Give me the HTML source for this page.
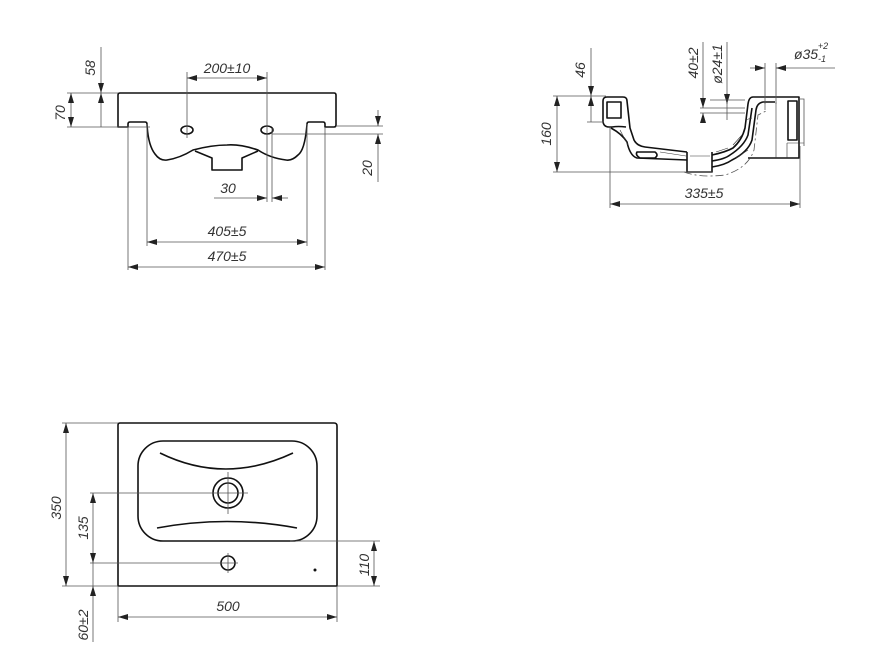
<!DOCTYPE html>
<html><head><meta charset="utf-8"><style>
html,body{margin:0;padding:0;background:#fff;}
svg{display:block}
text{font-family:"Liberation Sans",sans-serif;font-style:italic;font-size:14px;fill:#333;text-anchor:middle}
.d{stroke:#555;stroke-width:0.8;fill:none}
.o{stroke:#111;stroke-width:1.6;fill:none;stroke-linejoin:round}
.h{stroke:#333;stroke-width:0.6;fill:none}
</style></head><body>
<svg width="869" height="662" viewBox="0 0 869 662">
<defs>
<marker id="a" viewBox="0 0 10 6" refX="10" refY="3" markerWidth="10" markerHeight="6" orient="auto-start-reverse" markerUnits="userSpaceOnUse"><path d="M0,0 L10,3 L0,6 Z" fill="#222"/></marker>
</defs>

<!-- FRONT VIEW -->
<path class="o" d="M118,127 L118,95 Q118,93 120,93 L334,93 Q336,93 336,95 L336,125 Q336,127 334,127 L325,127 L325,124 Q325,122 323,122 L309,122 Q307,122 307,124 Q305,150 298,155 Q292,161 286,160 Q270,158 258,150 Q240,144 227,145 Q212,145 193,150 Q180,158 167,160 Q160,161 155,154 Q148,145 147,124 Q147,122 145,122 L130,122 Q128,122 128,124 L128,127 Z"/>
<path class="o" d="M195,151 L212,158 L212,170 L242,170 L242,158 L258,151"/>
<ellipse class="o" cx="187" cy="130" rx="6" ry="4"/>
<ellipse class="o" cx="267" cy="130" rx="6" ry="4"/>
<line class="d" x1="187" y1="72" x2="187" y2="138"/>
<line class="d" x1="267" y1="72" x2="267" y2="202"/>
<line class="d" x1="272" y1="128" x2="272" y2="202"/>
<line class="d" x1="187" y1="78" x2="267" y2="78" marker-start="url(#a)" marker-end="url(#a)"/>
<text x="227" y="73">200±10</text>
<line class="d" x1="101" y1="47" x2="101" y2="93" marker-end="url(#a)"/>
<line class="d" x1="101" y1="93" x2="101" y2="127" marker-start="url(#a)"/>
<text transform="translate(95,68) rotate(-90)">58</text>
<line class="d" x1="67" y1="93" x2="118" y2="93"/>
<line class="d" x1="67" y1="127" x2="150" y2="127"/>
<line class="d" x1="71" y1="93" x2="71" y2="127" marker-start="url(#a)" marker-end="url(#a)"/>
<text transform="translate(65,113) rotate(-90)">70</text>
<line class="d" x1="336" y1="126" x2="383" y2="126"/>
<line class="d" x1="272" y1="134" x2="383" y2="134"/>
<line class="d" x1="378" y1="110" x2="378" y2="126" marker-end="url(#a)"/>
<line class="d" x1="378" y1="134" x2="378" y2="182" marker-start="url(#a)"/>
<text transform="translate(372,168) rotate(-90)">20</text>
<line class="d" x1="214" y1="198" x2="267" y2="198" marker-end="url(#a)"/>
<line class="d" x1="272" y1="198" x2="288" y2="198" marker-start="url(#a)"/>
<text x="228" y="193">30</text>
<line class="d" x1="147" y1="124" x2="147" y2="246"/>
<line class="d" x1="307" y1="124" x2="307" y2="246"/>
<line class="d" x1="128" y1="127" x2="128" y2="270"/>
<line class="d" x1="325" y1="127" x2="325" y2="270"/>
<line class="d" x1="147" y1="242" x2="307" y2="242" marker-start="url(#a)" marker-end="url(#a)"/>
<text x="227" y="236">405±5</text>
<line class="d" x1="128" y1="267" x2="325" y2="267" marker-start="url(#a)" marker-end="url(#a)"/>
<text x="227" y="261">470±5</text>

<!-- SIDE VIEW -->
<!-- left rim + basin floor -->
<path class="o" d="M607,97 L623,97 Q627,97 627,101 L630,128 L634,140 Q637,146 645,147 L687,152"/>
<path class="o" d="M607,97 Q603,97 603,101 L603,122 Q604,127 609,127 L612,127 Q618,126 626,127"/>
<path class="o" d="M607,102 L621,102 L621,118 L607,118 Z"/>
<path class="o" d="M611,128 Q622,134 627,142 Q630,156 637,158 L687,160"/>
<path class="o" d="M637,152 L655,152 Q659,155 655,158 L640,158 Q635,155 637,152 Z"/>
<line class="h" x1="660" y1="152" x2="686" y2="156"/>
<line class="h" x1="620" y1="130" x2="628" y2="145"/>
<!-- drain -->
<path class="o" d="M687,152 L687,172 L712,172 L712,152"/>
<line class="h" x1="690" y1="156" x2="710" y2="156"/>
<!-- right wall -->
<path class="o" d="M712,155 Q726,152 733,148 Q742,140 745,128 L748,104 Q749,97 753,97 L799,97 L799,158 L748,158"/>
<path class="o" d="M712,167 Q725,165 732,160 Q748,152 752,140 L756,110 Q757,103 763,102 L775,102"/>
<path class="o" d="M712,161 Q725,159 730,155 Q744,146 748,135 L752,108"/>
<path class="o" d="M788,101 L797,101 L797,140 L788,140 Z"/>
<path class="h" d="M787,143 L787,158 M787,143 L804,143 M776,102 L776,158 M765,102 L765,110"/>
<path class="h" d="M716,152 L728,148 M733,145 L742,135 M745,120 L752,118 M736,158 L748,150"/>
<path class="d" stroke-dasharray="8 3 2 3" d="M684,172 Q700,178 725,175 Q748,168 754,150 L758,115 L768,110"/>
<path class="d" d="M799,99 L804,99 L804,146"/>
<!-- dims side -->
<line class="d" x1="553" y1="96" x2="606" y2="96"/>
<line class="d" x1="553" y1="172" x2="712" y2="172"/>
<line class="d" x1="557" y1="96" x2="557" y2="172" marker-start="url(#a)" marker-end="url(#a)"/>
<text transform="translate(551,134) rotate(-90)">160</text>
<line class="d" x1="587" y1="122" x2="604" y2="122"/>
<line class="d" x1="591" y1="48" x2="591" y2="96" marker-end="url(#a)"/>
<line class="d" x1="591" y1="96" x2="591" y2="122" marker-start="url(#a)"/>
<text transform="translate(585,70) rotate(-90)">46</text>
<line class="d" x1="700" y1="108" x2="745" y2="108"/>
<line class="d" x1="700" y1="113" x2="745" y2="113"/>
<line class="d" x1="703" y1="42" x2="703" y2="108" marker-end="url(#a)"/>
<line class="d" x1="703" y1="113" x2="703" y2="120" marker-start="url(#a)"/>
<text transform="translate(698,63) rotate(-90)">40±2</text>
<line class="d" x1="727" y1="42" x2="727" y2="120"/>
<line class="d" x1="727" y1="93" x2="727" y2="104" marker-end="url(#a)"/>
<text transform="translate(722,64) rotate(-90)">ø24±1</text>
<line class="d" x1="710" y1="100" x2="745" y2="100"/>
<line class="d" x1="765" y1="63" x2="765" y2="104"/>
<line class="d" x1="776" y1="63" x2="776" y2="104"/>
<line class="d" x1="750" y1="68" x2="765" y2="68" marker-end="url(#a)"/>
<line class="d" x1="776" y1="68" x2="835" y2="68" marker-start="url(#a)"/>
<text x="806" y="59">ø35</text>
<text x="823" y="49" style="font-size:9px">+2</text>
<text x="822" y="62" style="font-size:9px">-1</text>
<line class="d" x1="610" y1="128" x2="610" y2="208"/>
<line class="d" x1="800" y1="146" x2="800" y2="208"/>
<line class="d" x1="610" y1="204" x2="800" y2="204" marker-start="url(#a)" marker-end="url(#a)"/>
<text x="704" y="198">335±5</text>

<!-- TOP VIEW -->
<path class="o" d="M118,586 L118,425 Q118,423 120,423 L334,423 Q337,423 337,426 L337,586 Z"/>
<rect class="o" x="138" y="441" width="179" height="100" rx="25"/>
<path class="o" d="M160,453 Q225,485 293,453"/>
<path class="o" d="M157,528 Q227,515 297,528"/>
<circle class="o" cx="228" cy="493" r="15"/>
<circle class="o" cx="228" cy="493" r="10"/>
<circle class="o" cx="228" cy="563" r="7"/>
<circle cx="315" cy="570" r="1.5" fill="#111"/>
<line class="d" x1="228" y1="472" x2="228" y2="514"/>
<line class="d" x1="228" y1="553" x2="228" y2="573"/>
<line class="d" x1="90" y1="493" x2="248" y2="493"/>
<line class="d" x1="90" y1="563" x2="238" y2="563"/>
<line class="d" x1="62" y1="423" x2="118" y2="423"/>
<line class="d" x1="62" y1="586" x2="118" y2="586"/>
<line class="d" x1="66" y1="423" x2="66" y2="586" marker-start="url(#a)" marker-end="url(#a)"/>
<text transform="translate(61,508) rotate(-90)">350</text>
<line class="d" x1="93" y1="493" x2="93" y2="563" marker-start="url(#a)" marker-end="url(#a)"/>
<text transform="translate(88,528) rotate(-90)">135</text>
<line class="d" x1="93" y1="586" x2="93" y2="642" marker-start="url(#a)"/>
<line class="d" x1="93" y1="563" x2="93" y2="586"/>
<text transform="translate(88,625) rotate(-90)">60±2</text>
<line class="d" x1="290" y1="541" x2="380" y2="541"/>
<line class="d" x1="337" y1="586" x2="380" y2="586"/>
<line class="d" x1="374" y1="541" x2="374" y2="586" marker-start="url(#a)" marker-end="url(#a)"/>
<text transform="translate(369,565) rotate(-90)">110</text>
<line class="d" x1="118" y1="586" x2="118" y2="622"/>
<line class="d" x1="337" y1="586" x2="337" y2="622"/>
<line class="d" x1="118" y1="617" x2="337" y2="617" marker-start="url(#a)" marker-end="url(#a)"/>
<text x="228" y="611">500</text>
</svg>
</body></html>
